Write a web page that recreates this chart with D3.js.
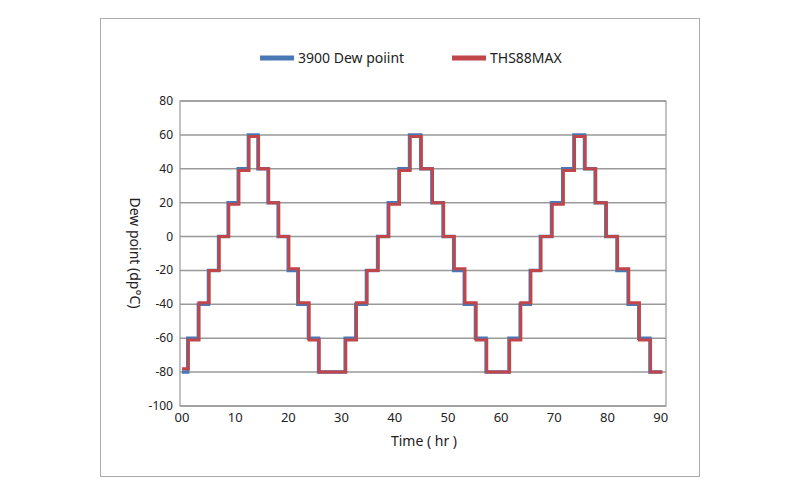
<!DOCTYPE html><html><head><meta charset="utf-8"><script src="https://cdn.jsdelivr.net/npm/d3@7"></script>
<style>body{margin:0;background:#fff}text{font-family:"Noto Sans",sans-serif;fill:#222}</style></head><body><svg width="800" height="500"></svg><script>
const stepTimes=[0,1.2,3.2,5.1,7.0,8.8,10.7,12.6,14.4,16.3,18.2,20.1,21.9,23.9,25.8,30.8,32.8,34.8,36.9,38.9,40.9,42.9,45.0,47.1,49.2,51.2,53.2,55.3,57.3,61.6,63.7,65.6,67.5,69.6,71.7,73.8,75.8,77.8,79.8,81.9,84.0,86.0,88.1,90.3];
const refValues=[-80,-60,-40,-20,0,20,40,60,40,20,0,-20,-40,-60,-80,-60,-40,-20,0,20,40,60,40,20,0,-20,-40,-60,-80,-60,-40,-20,0,20,40,60,40,20,0,-20,-40,-60,-80,-80];
const thsValues=[-78,-61,-39,-20,0,19,39,59,40,20,0,-19,-39,-61,-80,-61,-39,-20,0,19,39,59,40,20,0,-19,-39,-61,-80,-61,-39,-20,0,19,39,59,40,20,0,-19,-39,-61,-80,-80];
const blueLead=0.12;
const yTicks=[80,60,40,20,0,-20,-40,-60,-80,-100];
const xTicks=[0,10,20,30,40,50,60,70,80,90];
const xLabels=["00","10","20","30","40","50","60","70","80","90"];
const svg=d3.select("svg");
svg.append("rect").attr("x",100.5).attr("y",18.5).attr("width",599).attr("height",458).attr("fill","none").attr("stroke","#aaa");
const L=180,R=666,T=101,B=406;
const x=d3.scaleLinear().domain([0,91]).range([182,R]);
const y=d3.scaleLinear().domain([-100,80]).range([B,T]);
svg.selectAll(".g").data(yTicks).join("line").attr("x1",L).attr("x2",R).attr("y1",d=>y(d)).attr("y2",d=>y(d)).attr("stroke","#999").attr("stroke-width",1.5);
svg.append("rect").attr("x",L).attr("y",T).attr("width",R-L).attr("height",B-T).attr("fill","none").attr("stroke","#999").attr("stroke-width",1.2);
svg.selectAll(".yl").data(yTicks).join("text").attr("x",173).attr("y",d=>y(d)+4).attr("text-anchor","end").attr("font-size",12).text(d=>d);
svg.selectAll(".xl").data(xTicks).join("text").attr("x",d=>x(d)).attr("y",422).attr("text-anchor","middle").attr("font-size",13).text((d,i)=>xLabels[i]);
svg.append("text").attr("x",424).attr("y",446).attr("text-anchor","middle").attr("font-size",14).text("Time ( hr )");
svg.append("text").attr("transform","translate(130,253) rotate(90)").attr("text-anchor","middle").attr("font-size",14).text("Dew point (dp°C)");
const line=d3.line().curve(d3.curveStepAfter).x(d=>x(d[0])).y(d=>y(d[1]));
const blue=stepTimes.map((t,i)=>[i==0||i==stepTimes.length-1?t:t-blueLead,refValues[i]]);
const red=stepTimes.map((t,i)=>[t,thsValues[i]]);
svg.append("path").attr("d",line(blue)).attr("fill","none").attr("stroke","#4a78b5").attr("stroke-width",3.5);
svg.append("path").attr("d",line(red)).attr("fill","none").attr("stroke","#c0464a").attr("stroke-width",3);
const lg=[["3900 Dew poiint","#4a78b5",260],["THS88MAX","#c0464a",452]];
lg.forEach(([t,c,x0])=>{svg.append("line").attr("x1",x0).attr("x2",x0+34).attr("y1",58).attr("y2",58).attr("stroke",c).attr("stroke-width",5);
svg.append("text").attr("x",x0+38).attr("y",63).attr("font-size",14).text(t);});
</script></body></html>
